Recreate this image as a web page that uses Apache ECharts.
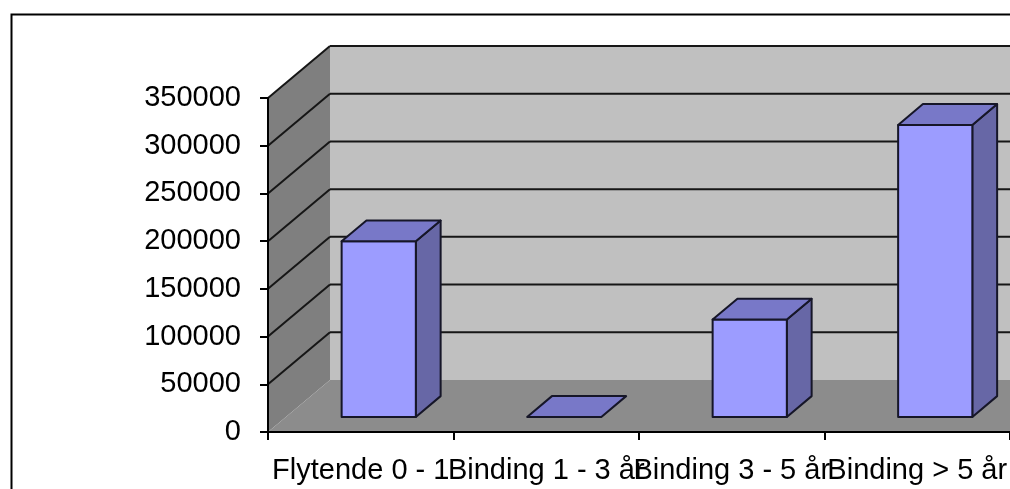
<!DOCTYPE html>
<html>
<head>
<meta charset="utf-8">
<script src="https://cdn.jsdelivr.net/npm/echarts@6/dist/echarts.min.js"></script>
<style>
  html, body { margin: 0; padding: 0; background: #ffffff; }
  #chart { width: 1010px; height: 489px; }
</style>
</head>
<body>
<div id="chart"></div>
<script>
// Categories and values
const categories = ['Flytende 0 - 1', 'Binding 1 - 3 år', 'Binding 3 - 5 år', 'Binding > 5 år'];
const values = [184000, 0, 102000, 306000];
const yTicks = [50000, 100000, 150000, 200000, 250000, 300000, 350000];

// 3D look: full depth of the chart box in pixels, and where the boxes sit in it
const DEPTH_DX = 62;
const DEPTH_DY = -52;
const BAR_FRONT = 0.29;
const BAR_BACK = 0.69;
const BAR_WIDTH = 0.40;

const FONT = '"Liberation Sans", Arial, sans-serif';
const OUTLINE = '#161628';

const chart = echarts.init(document.getElementById('chart'), null, { renderer: 'canvas' });

// back wall, side wall and floor of the chart box
function renderWalls(params, api) {
  const cs = params.coordSys;
  const x0 = cs.x, y0 = cs.y, x1 = cs.x + cs.width, y1 = cs.y + cs.height;
  return {
    type: 'group',
    children: [
      { type: 'rect', shape: { x: x0 + DEPTH_DX, y: y0 + DEPTH_DY, width: cs.width + 40, height: cs.height },
        style: { fill: '#c0c0c0' } },
      { type: 'polygon', shape: { points: [[x0, y0], [x0 + DEPTH_DX, y0 + DEPTH_DY], [x0 + DEPTH_DX, y1 + DEPTH_DY], [x0, y1]] },
        style: { fill: '#7f7f7f' } },
      { type: 'polygon', shape: { points: [[x0, y1], [x0 + DEPTH_DX, y1 + DEPTH_DY], [x1 + DEPTH_DX + 40, y1 + DEPTH_DY], [x1 + 40, y1]] },
        style: { fill: '#8c8c8c' } }
    ]
  };
}

// grid lines along the side wall and the back wall
function renderGridLine(params, api) {
  const cs = params.coordSys;
  const p = api.coord([0, api.value(0)]);
  const y = p[1];
  const x0 = cs.x;
  const style = { stroke: '#161616', lineWidth: 2, fill: null };
  return {
    type: 'group',
    children: [
      { type: 'line', shape: { x1: x0, y1: y, x2: x0 + DEPTH_DX, y2: y + DEPTH_DY }, style: style },
      { type: 'line', shape: { x1: x0 + DEPTH_DX, y1: y + DEPTH_DY, x2: cs.x + cs.width + DEPTH_DX + 40, y2: y + DEPTH_DY }, style: style }
    ]
  };
}

// one box per category
function renderBox(params, api) {
  const idx = api.value(0);
  const v = api.value(1);
  const base = api.coord([idx, 0]);
  const top = api.coord([idx, v]);
  const band = api.size([1, 0])[0];
  const w = band * BAR_WIDTH;
  const fx = base[0] - w / 2 + BAR_FRONT * DEPTH_DX;
  const fyB = base[1] + BAR_FRONT * DEPTH_DY;
  const fyT = top[1] + BAR_FRONT * DEPTH_DY;
  const bdx = (BAR_BACK - BAR_FRONT) * DEPTH_DX;
  const bdy = (BAR_BACK - BAR_FRONT) * DEPTH_DY;
  const edge = { stroke: OUTLINE, lineWidth: 2, lineJoin: 'round' };
  const children = [];
  if (fyB - fyT > 0.5) {
    children.push({ type: 'polygon', shape: { points: [[fx + w, fyT], [fx + w + bdx, fyT + bdy], [fx + w + bdx, fyB + bdy], [fx + w, fyB]] },
      style: Object.assign({ fill: '#6767a6' }, edge) });
    children.push({ type: 'rect', shape: { x: fx, y: fyT, width: w, height: fyB - fyT },
      style: Object.assign({ fill: '#9c9cff' }, edge) });
  }
  children.push({ type: 'polygon', shape: { points: [[fx, fyT], [fx + w, fyT], [fx + w + bdx, fyT + bdy], [fx + bdx, fyT + bdy]] },
    style: Object.assign({ fill: '#7878c8' }, edge) });
  return { type: 'group', children: children };
}

const option = {
  backgroundColor: '#ffffff',
  animation: false,
  graphic: [
    { type: 'rect', left: 9, top: 12, shape: { x: 0, y: 0, width: 1100, height: 600 },
      style: { fill: null, stroke: '#000000', lineWidth: 2 }, z: 100 }
  ],
  grid: { left: 268, top: 98, width: 744, height: 334, containLabel: false },
  xAxis: {
    type: 'category',
    data: categories,
    boundaryGap: true,
    axisLine: { show: true, lineStyle: { color: '#000000', width: 2 } },
    axisTick: { show: true, length: 8, lineStyle: { color: '#000000', width: 2 } },
    axisLabel: { interval: 0, color: '#000000', fontFamily: FONT, fontSize: 29, margin: 24, hideOverlap: false },
    splitLine: { show: false },
    z: 10
  },
  yAxis: {
    type: 'value',
    min: 0,
    max: 350000,
    interval: 50000,
    axisLine: { show: true, lineStyle: { color: '#000000', width: 2 } },
    axisTick: { show: true, length: 8, lineStyle: { color: '#000000', width: 2 } },
    axisLabel: { color: '#000000', fontFamily: FONT, fontSize: 29, margin: 27, formatter: v => String(v) },
    splitLine: { show: false },
    z: 10
  },
  series: [
    { type: 'custom', name: 'walls', data: [[0, 0]], renderItem: renderWalls, clip: false, z: 1, silent: true },
    { type: 'custom', name: 'grid', data: yTicks.map(t => [t]), encode: { y: 0 }, renderItem: renderGridLine, clip: false, z: 2, silent: true },
    { type: 'custom', name: 'values', data: values.map((v, i) => [i, v]), encode: { x: 0, y: 1 }, renderItem: renderBox, clip: false, z: 3 }
  ]
};

chart.setOption(option);
</script>
</body>
</html>
